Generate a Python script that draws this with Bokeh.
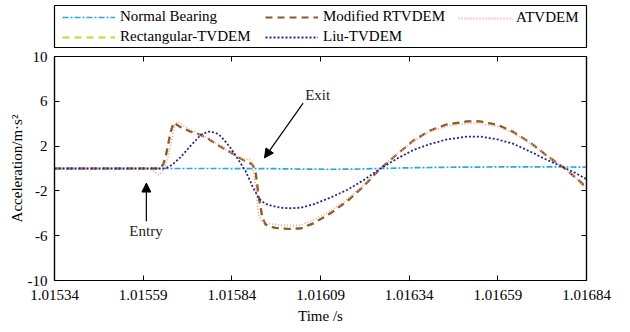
from bokeh.plotting import figure
from bokeh.layouts import column
from bokeh.models import (Range1d, FixedTicker, PrintfTickFormatter, LinearAxis,
                          Legend, LegendItem, Arrow, NormalHead, Label)
from bokeh.embed import file_html
from bokeh.resources import INLINE

# ---------------- data ----------------
time_s = [1.015340, 1.015470, 1.015582, 1.015611, 1.015625, 1.015633, 1.015639,
          1.015647, 1.015653, 1.015659, 1.015667, 1.015676, 1.015681, 1.015690,
          1.015695, 1.015709, 1.015723, 1.015738, 1.015752, 1.015774, 1.015794,
          1.015808, 1.015822, 1.015836, 1.015850, 1.015864, 1.015873, 1.015879,
          1.015887, 1.015893, 1.015898, 1.015907, 1.015915, 1.015921, 1.015926,
          1.015935, 1.015949, 1.015963, 1.015977, 1.016005, 1.016034, 1.016070,
          1.016118, 1.016166, 1.016211, 1.016259, 1.016307, 1.016352, 1.016400,
          1.016448, 1.016504, 1.016541, 1.016589, 1.016634, 1.016682, 1.016730,
          1.016775, 1.016809, 1.016840]

normal_bearing = [0, 0, 0, 0, 0, 0, 0,
                  0, 0, 0, 0, 0, 0, 0,
                  0, 0, 0, 0, 0, 0, 0,
                  0, 0, -0.01, -0.01, -0.01, -0.01, -0.01,
                  -0.01, -0.01, -0.01, -0.01, -0.02, -0.02, -0.02,
                  -0.02, -0.02, -0.02, -0.03, -0.04, -0.05, -0.06,
                  -0.07, -0.06, -0.04, 0.0, 0.04, 0.07, 0.09,
                  0.11, 0.12, 0.13, 0.14, 0.15, 0.15, 0.15,
                  0.14, 0.13, 0.12]

modified_rtvdem = [0, 0, 0, 0, 0, 0, 0.05,
                   0.4, 1.0, 1.9, 3.2, 4.1, 4.0, 3.8,
                   3.7, 3.5, 3.3, 3.15, 3.0, 2.65, 2.2,
                   1.95, 1.7, 1.45, 1.2, 0.9, 0.75, 0.65,
                   0.5, 0.45, 0.35, -0.3, -2.4, -3.4, -4.4,
                   -5.0, -5.2, -5.3, -5.35, -5.4, -5.35, -4.9,
                   -4.0, -2.9, -1.6, 0.0, 1.3, 2.5, 3.4,
                   3.95, 4.2, 4.2, 3.9, 3.25, 2.3, 1.1,
                   0.1, -0.8, -1.7]

rectangular_tvdem = [0, 0, 0, 0, 0, 0, 0.05,
                     0.4, 1.0, 1.9, 3.2, 4.1, 4.0, 3.8,
                     3.7, 3.5, 3.3, 3.15, 3.0, 2.65, 2.2,
                     1.95, 1.7, 1.45, 1.2, 0.9, 0.75, 0.65,
                     0.5, 0.45, 0.35, -0.3, -2.4, -3.4, -4.4,
                     -5.0, -5.2, -5.3, -5.35, -5.4, -5.35, -4.9,
                     -4.0, -2.9, -1.6, 0.0, 1.3, 2.5, 3.4,
                     3.95, 4.2, 4.2, 3.9, 3.25, 2.3, 1.1,
                     0.1, -0.8, -1.7]

atvdem = [0, 0, 0, -0.05, -0.35, -0.55, -0.45,
          -0.1, 0.3, 0.9, 2.0, 3.5, 4.1, 4.15,
          4.0, 3.7, 3.45, 3.25, 3.0, 2.7, 2.3,
          2.05, 1.75, 1.45, 1.15, 0.9, 0.8, 0.8,
          0.85, 0.75, 0.3, -1.5, -4.0, -4.6, -4.75,
          -4.85, -4.95, -5.0, -5.05, -5.1, -5.05, -4.6,
          -3.8, -2.75, -1.5, 0.0, 1.3, 2.45, 3.3,
          3.8, 4.0, 4.0, 3.75, 3.15, 2.25, 1.1,
          0.1, -0.85, -1.8]

liu_tvdem = [0, 0, 0, 0, 0, 0, 0,
             0, 0.02, 0.1, 0.25, 0.45, 0.6, 0.85,
             1.0, 1.5, 2.0, 2.5, 3.0, 3.3, 3.2,
             2.9, 2.4, 1.85, 1.2, 0.5, 0.05, -0.25,
             -0.8, -1.2, -1.6, -2.1, -2.6, -2.8, -2.95,
             -3.15, -3.3, -3.4, -3.5, -3.55, -3.5, -3.2,
             -2.6, -1.9, -1.05, 0.0, 0.9, 1.65, 2.2,
             2.6, 2.85, 2.85, 2.6, 2.2, 1.5, 0.75,
             0.1, -0.4, -0.95]

series_names = ["Normal Bearing", "Rectangular-TVDEM", "Modified RTVDEM",
                "ATVDEM", "Liu-TVDEM"]
series_values = [normal_bearing, rectangular_tvdem, modified_rtvdem, atvdem, liu_tvdem]

x_ticks = [1.01534, 1.01559, 1.01584, 1.01609, 1.01634, 1.01659, 1.01684]
y_ticks = [-10, -6, -2, 2, 6, 10]

entry_arrow = dict(x_start=1.015599, y_start=-4.7, x_end=1.015599, y_end=-1.3)
entry_label = dict(x=1.015598, y=-5.55, text="Entry")
exit_arrow = dict(x_start=1.016041, y_start=5.83, x_end=1.015932, y_end=0.95)
exit_label = dict(x=1.016082, y=6.6, text="Exit")

FONT = "Liberation Serif"

STYLES = {
    "Normal Bearing": dict(line_color="#27A9E1", line_width=1.7, line_dash="6 2 2 2"),
    "Rectangular-TVDEM": dict(line_color="#CFCF2E", line_width=2.2, line_dash="7 5"),
    "Modified RTVDEM": dict(line_color="#8A5A35", line_width=2.2, line_dash="7 5"),
    "ATVDEM": dict(line_color="#F3A2A6", line_width=1.8, line_dash="1 2"),
    "Liu-TVDEM": dict(line_color="#24248C", line_width=1.8, line_dash="2 2"),
}

# ---------------- main figure ----------------
p = figure(width=630, height=284, output_backend="svg", toolbar_location=None,
           x_range=Range1d(x_ticks[0], x_ticks[-1]), y_range=Range1d(-10, 10),
           min_border_left=54, min_border_right=44, min_border_top=8,
           min_border_bottom=52)
p.background_fill_color = "white"
p.border_fill_color = "white"
p.outline_line_color = "black"
p.outline_line_width = 1.2
p.xgrid.visible = False
p.ygrid.visible = False

def style_axis(ax, ticks, show_labels=True):
    ax.ticker = FixedTicker(ticks=ticks)
    ax.major_tick_in = 5
    ax.major_tick_out = 0
    ax.minor_tick_line_color = None
    ax.axis_line_color = "black"
    ax.axis_line_width = 1.2
    ax.major_tick_line_color = "black"
    ax.major_tick_line_width = 1
    ax.major_label_text_font = FONT
    ax.major_label_text_font_size = "15px"
    ax.major_label_text_color = "black"
    ax.axis_label_text_font = FONT
    ax.axis_label_text_font_size = "15px"
    ax.axis_label_text_font_style = "normal"
    ax.axis_label_text_color = "black"
    if not show_labels:
        ax.major_label_overrides = {t: "" for t in ticks}
        ax.major_label_standoff = 0

xa = p.xaxis[0]
style_axis(xa, x_ticks)
xa.formatter = PrintfTickFormatter(format="%.5f")
xa.major_label_standoff = 9
xa.axis_label = "Time /s"
xa.axis_label_standoff = 5

ya = p.yaxis[0]
style_axis(ya, y_ticks)
ya.formatter = PrintfTickFormatter(format="%d")
ya.major_label_standoff = 7
ya.axis_label = "Acceleration/m·s²"
ya.axis_label_standoff = 0

top_ax = LinearAxis()
style_axis(top_ax, x_ticks, show_labels=False)
p.add_layout(top_ax, "above")
right_ax = LinearAxis()
style_axis(right_ax, y_ticks, show_labels=False)
p.add_layout(right_ax, "right")

for name, vals in zip(series_names, series_values):
    p.line(time_s, vals, **STYLES[name])

p.add_layout(Arrow(end=NormalHead(size=9, fill_color="black", line_color="black"),
                   line_color="black", line_width=1.2, **entry_arrow))
p.add_layout(Arrow(end=NormalHead(size=9, fill_color="black", line_color="black"),
                   line_color="black", line_width=1.2, **exit_arrow))
for lab in (entry_label, exit_label):
    p.add_layout(Label(x=lab["x"], y=lab["y"], text=lab["text"], text_font=FONT,
                       text_font_size="15px", text_align="center",
                       text_baseline="middle", text_color="#222222"))

# ---------------- legend strip (its frame outline is the legend box) ----------------
lf = figure(width=630, height=48, output_backend="svg", toolbar_location=None,
            x_axis_type=None, y_axis_type=None,
            min_border_left=54, min_border_right=44, min_border_top=5,
            min_border_bottom=1)
lf.outline_line_color = "black"
lf.outline_line_width = 1.2
lf.xgrid.visible = False
lf.ygrid.visible = False
lf.background_fill_color = "white"
lf.border_fill_color = "white"

nan = float("nan")
dummy = {name: lf.line(x=[nan, nan], y=[nan, nan], **STYLES[name])
         for name in series_names}

columns = [
    (["Normal Bearing", "Rectangular-TVDEM"], 8, 2),
    (["Modified RTVDEM", "Liu-TVDEM"], 211, 2),
    (["ATVDEM"], 404, 21),
]
for names, vx, vy in columns:
    lg = Legend(items=[LegendItem(label=n, renderers=[dummy[n]]) for n in names],
                orientation="vertical", location=(vx, vy))
    lg.label_text_font = FONT
    lg.label_text_font_size = "15px"
    lg.label_text_color = "black"
    lg.label_text_baseline = "middle"
    lg.glyph_width = 53
    lg.glyph_height = 16
    lg.label_height = 16
    lg.label_standoff = 5
    lg.spacing = 3
    lg.padding = 0
    lg.margin = 0
    lg.border_line_color = None
    lg.background_fill_alpha = 0
    lf.add_layout(lg, "center")

open("out.html", "w").write(file_html(column(lf, p, spacing=0), INLINE))
